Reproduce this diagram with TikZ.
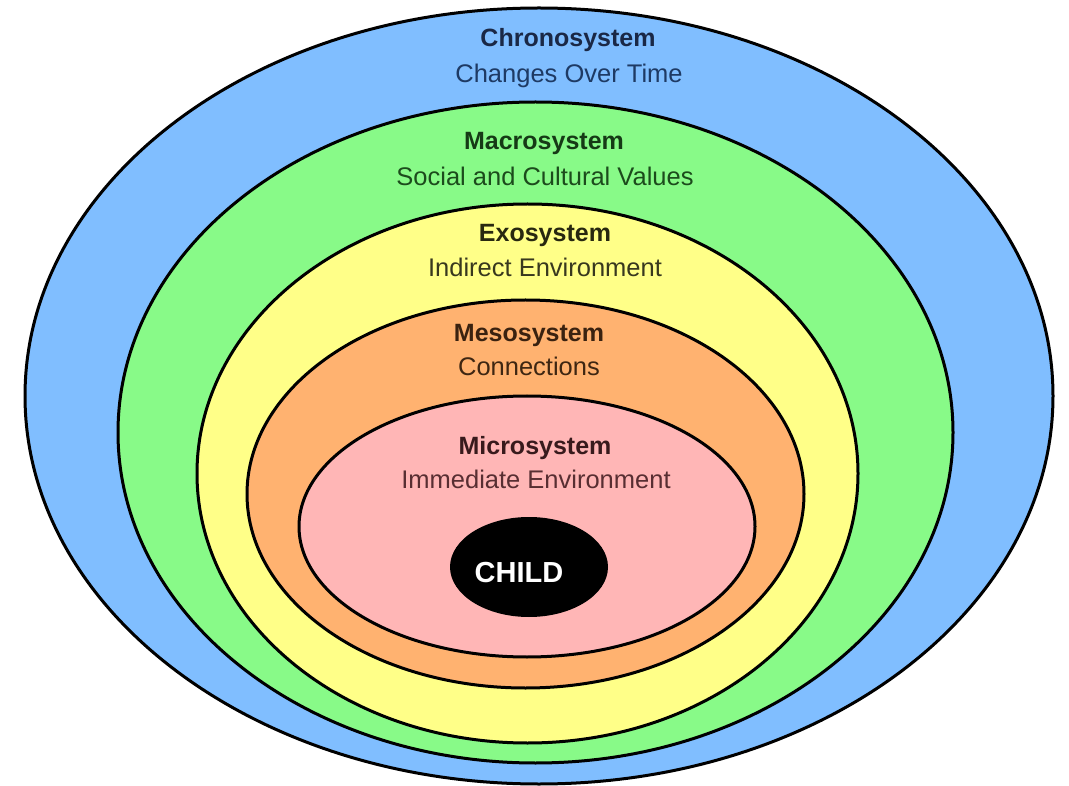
\documentclass[tikz,border=0pt]{standalone}
\usepackage{fontspec}
\setmainfont{Liberation Sans}
\usetikzlibrary{shapes.geometric}
\definecolor{cblue}{RGB}{128,190,255}
\definecolor{cgreen}{RGB}{136,250,136}
\definecolor{cyellow}{RGB}{255,255,136}
\definecolor{corange}{RGB}{255,178,112}
\definecolor{cpink}{RGB}{255,182,182}
\definecolor{tblueA}{RGB}{26,40,70}
\definecolor{tblueB}{RGB}{30,58,100}
\definecolor{tgreenA}{RGB}{22,58,22}
\definecolor{tgreenB}{RGB}{28,75,28}
\definecolor{tyelA}{RGB}{40,40,16}
\definecolor{tyelB}{RGB}{56,56,30}
\definecolor{torA}{RGB}{58,34,16}
\definecolor{torB}{RGB}{62,38,18}
\definecolor{tpiA}{RGB}{56,26,28}
\definecolor{tpiB}{RGB}{88,46,50}
\begin{document}
\begin{tikzpicture}[x=1pt,y=-1pt,
  ring/.style={ellipse,draw=black,line width=3pt,inner sep=0pt},
  title/.style={anchor=base,inner sep=0pt,font=\fontsize{25}{28}\selectfont\bfseries},
  sub/.style={anchor=base,inner sep=0pt,font=\fontsize{25.5}{28}\selectfont}]
\useasboundingbox[fill=white] (0,0) rectangle (1069,786);
\node[ring,fill=cblue,minimum width=1028pt,minimum height=776pt] (chrono) at (539,396) {};
\node[ring,fill=cgreen,minimum width=835pt,minimum height=661pt] (macro) at (535.5,432.5) {};
\node[ring,fill=cyellow,minimum width=661pt,minimum height=539pt] (exo) at (527.5,473.5) {};
\node[ring,fill=corange,minimum width=557pt,minimum height=388pt] (meso) at (525.5,494) {};
\node[ring,fill=cpink,minimum width=456pt,minimum height=261pt] (micro) at (527,526.5) {};
\node[ellipse,fill=black,inner sep=0pt,minimum width=158pt,minimum height=100pt] (child) at (529,567) {};
\node[title,text=tblueA] (t1) at (568,46.5) {Chronosystem};
\node[sub,text=tblueB] (s1) at (569,83) {Changes Over Time};
\node[title,text=tgreenA] (t2) at (544,150) {Macrosystem};
\node[sub,text=tgreenB] (s2) at (545,186) {Social and Cultural Values};
\node[title,text=tyelA] (t3) at (545,242) {Exosystem};
\node[sub,text=tyelB] (s3) at (545,277) {Indirect Environment};
\node[title,text=torA] (t4) at (529,342) {Mesosystem};
\node[sub,text=torB] (s4) at (529,376) {Connections};
\node[title,text=tpiA] (t5) at (535,454) {Microsystem};
\node[sub,text=tpiB] (s5) at (536,488) {Immediate Environment};
\node[anchor=base,inner sep=0pt,text=white,font=\fontsize{29}{32}\selectfont\bfseries] (c) at (519,582) {CHILD};
\end{tikzpicture}
\end{document}
